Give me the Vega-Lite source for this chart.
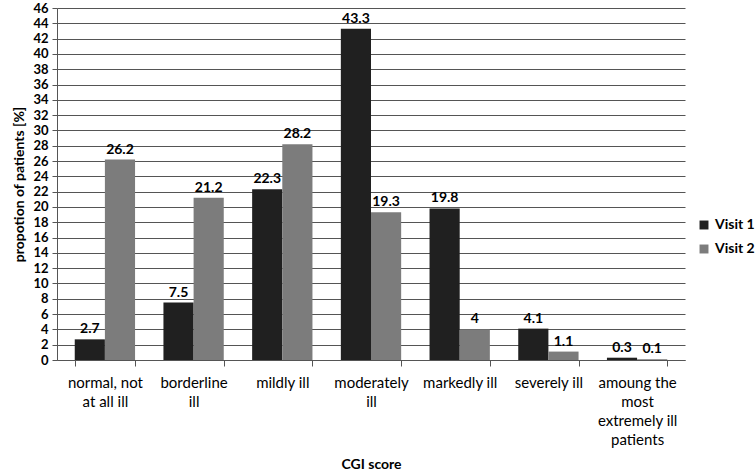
{
  "$schema": "https://vega.github.io/schema/vega-lite/v6.json",
  "width": 628,
  "height": 352,
  "padding": {"left": 12, "top": 2, "right": 5, "bottom": 2},
  "background": "white",
  "config": {
    "font": "Lato",
    "view": {"stroke": null},
    "axis": {"labelFont": "Lato", "titleFont": "Lato"}
  },
  "data": {
    "values": [
      {"score": "normal, not at all ill", "visit": "Visit 1", "value": 2.7},
      {"score": "normal, not at all ill", "visit": "Visit 2", "value": 26.2},
      {"score": "borderline ill", "visit": "Visit 1", "value": 7.5},
      {"score": "borderline ill", "visit": "Visit 2", "value": 21.2},
      {"score": "mildly ill", "visit": "Visit 1", "value": 22.3},
      {"score": "mildly ill", "visit": "Visit 2", "value": 28.2},
      {"score": "moderately ill", "visit": "Visit 1", "value": 43.3},
      {"score": "moderately ill", "visit": "Visit 2", "value": 19.3},
      {"score": "markedly ill", "visit": "Visit 1", "value": 19.8},
      {"score": "markedly ill", "visit": "Visit 2", "value": 4},
      {"score": "severely ill", "visit": "Visit 1", "value": 4.1},
      {"score": "severely ill", "visit": "Visit 2", "value": 1.1},
      {"score": "amoung the most extremely ill patients", "visit": "Visit 1", "value": 0.3},
      {"score": "amoung the most extremely ill patients", "visit": "Visit 2", "value": 0.1}
    ]
  },
  "encoding": {
    "x": {
      "field": "score",
      "type": "nominal",
      "sort": null,
      "scale": {"paddingInner": 0.32, "paddingOuter": 0.2},
      "axis": {
        "title": "CGI score",
        "titleFontSize": 14,
        "titleFontWeight": "bold",
        "titleColor": "#000",
        "titlePadding": 10,
        "labelAngle": 0,
        "labelFontSize": 15,
        "labelColor": "#000",
        "labelPadding": 9,
        "labelLineHeight": 19,
        "labelBaseline": "top",
        "tickBand": "extent",
        "tickColor": "#555",
        "tickSize": 6,
        "domainColor": "#555",
        "labelExpr": "datum.value == 'normal, not at all ill' ? ['normal, not', 'at all ill'] : datum.value == 'borderline ill' ? ['borderline', 'ill'] : datum.value == 'moderately ill' ? ['moderately', 'ill'] : datum.value == 'amoung the most extremely ill patients' ? ['amoung the', 'most', 'extremely ill', 'patients'] : datum.value"
      }
    },
    "xOffset": {"field": "visit", "type": "nominal", "scale": {"paddingInner": 0}},
    "y": {
      "field": "value",
      "type": "quantitative",
      "scale": {"domain": [0, 46], "nice": false},
      "axis": {
        "title": "propotion of patients [%]",
        "titleFontSize": 14,
        "titleFontWeight": "bold",
        "titleColor": "#000",
        "titlePadding": 6,
        "values": [0, 2, 4, 6, 8, 10, 12, 14, 16, 18, 20, 22, 24, 26, 28, 30, 32, 34, 36, 38, 40, 42, 44, 46],
        "labelFontSize": 13,
        "labelFontWeight": "bold",
        "labelColor": "#000",
        "labelPadding": 4,
        "gridColor": "#555",
        "gridWidth": 1,
        "tickColor": "#555",
        "tickSize": 5,
        "domainColor": "#555"
      }
    }
  },
  "layer": [
    {
      "mark": {"type": "bar"},
      "encoding": {
        "color": {
          "field": "visit",
          "type": "nominal",
          "scale": {"domain": ["Visit 1", "Visit 2"], "range": ["#202020", "#7c7c7c"]},
          "legend": {
            "title": null,
            "orient": "none",
            "legendX": 640,
            "legendY": 210,
            "symbolType": "square",
            "symbolSize": 80,
            "labelFontSize": 14,
            "labelFontWeight": "bold",
            "labelColor": "#000",
            "rowPadding": 10
          }
        }
      }
    },
    {
      "mark": {"type": "text", "dy": -10, "fontSize": 14, "fontWeight": "bold", "color": "#000"},
      "encoding": {
        "text": {"field": "value", "type": "quantitative"}
      }
    }
  ]
}
